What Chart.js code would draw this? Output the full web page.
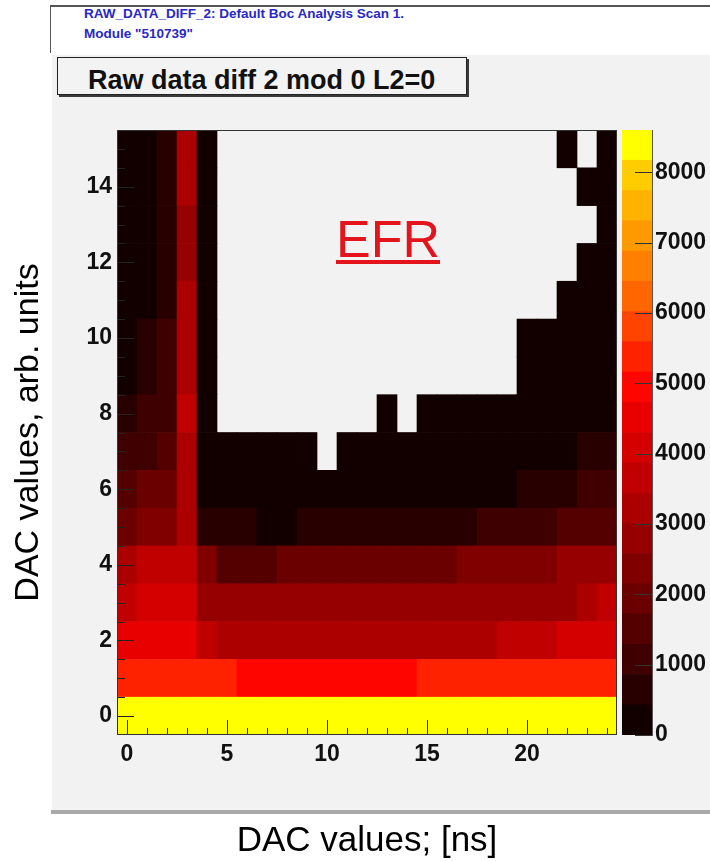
<!DOCTYPE html>
<html>
<head>
<meta charset="utf-8">
<script src="https://cdn.jsdelivr.net/npm/chart.js@4.4.1/dist/chart.umd.min.js"></script>
<style>
  body { margin: 0; background: #fff; }
  #page { position: relative; width: 710px; height: 861px; overflow: hidden; font-family: "Liberation Sans", Arial, sans-serif; }
  .abs { position: absolute; }
  #topLine { left: 50px; top: 5px; width: 660px; height: 2px; background: #555; }
  #leftLine { left: 50px; top: 5px; width: 1px; height: 48px; background: #555; }
  .hdr { left: 84px; font-weight: bold; font-size: 13.5px; line-height: 1; color: #2828c4; white-space: nowrap; }
  #pad { left: 52px; top: 55px; width: 658px; height: 755px; background: #f2f2f2; }
  #padShadow { left: 51px; top: 810px; width: 659px; height: 4px; background: #a9a9a9; }
  #titleBox { left: 57px; top: 57px; width: 410px; height: 38px; box-sizing: border-box; border: 1px solid #222;
    background: #f3f3f3; box-shadow: 2px 2px 0 #3a3a3a; padding-left: 30px; font-weight: bold; font-size: 27px;
    line-height: 45px; color: #111; white-space: nowrap; overflow: hidden; }
  canvas { position: absolute; left: 0; top: 0; }
  #efr { left: 336px; top: 213px; font-size: 52px; line-height: 1; color: #e3141b; text-decoration: underline;
    text-decoration-thickness: 4px; text-underline-offset: 3px; }
</style>
</head>
<body>
<div id="page">
  <div id="topLine" class="abs"></div>
  <div id="leftLine" class="abs"></div>
  <div class="abs hdr" style="top:7px">RAW_DATA_DIFF_2: Default Boc Analysis Scan 1.</div>
  <div class="abs hdr" style="top:27px">Module "510739"</div>
  <div id="pad" class="abs"></div>
  <div id="padShadow" class="abs"></div>
  <div id="titleBox" class="abs">Raw data diff 2 mod 0 L2=0</div>
  <canvas id="hist" width="710" height="861"></canvas>
  <canvas id="zbar" width="710" height="861"></canvas>
  <div id="efr" class="abs">EFR</div>
</div>
<script>
// bin contents, one array per DAC (y) row, 25 x bins each; null = empty bin
const yBin0  = [8390, 8420, 8410, 8400, 8380, 8430, 8440, 8450, 8420, 8410, 8430, 8440, 8420, 8400, 8410, 8390, 8400, 8380, 8370, 8390, 8380, 8360, 8370, 8350, 8340];
const yBin1  = [5420, 5390, 5360, 5340, 5300, 5250, 5100, 5080, 5050, 5030, 5020, 5040, 5060, 5090, 5120, 5200, 5230, 5260, 5300, 5330, 5360, 5390, 5420, 5450, 5480];
const yBin2  = [4560, 4520, 4480, 4440, 3700, 3350, 3300, 3260, 3230, 3200, 3180, 3170, 3160, 3170, 3190, 3210, 3250, 3290, 3340, 3560, 3620, 3680, 3950, 4010, 4080];
const yBin3  = [3620, 3980, 4050, 4100, 2900, 2850, 2810, 2780, 2760, 2740, 2730, 2720, 2720, 2730, 2740, 2750, 2770, 2790, 2810, 2840, 2870, 2910, 2960, 3150, 3520];
const yBin4  = [3180, 3500, 3560, 3600, 2300, 1550, 1480, 1500, 1800, 1850, 1880, 1900, 1920, 1950, 1980, 2020, 2080, 2200, 2260, 2320, 2380, 2440, 2650, 2720, 2800];
const yBin5  = [2000, 2300, 2400, 3250, 700, 650, 600, 380, 400, 520, 560, 600, 640, 680, 720, 760, 800, 840, 950, 1050, 1150, 1250, 1400, 1500, 1600];
const yBin6  = [1550, 1850, 1950, 3250, 150, 120, 110, 100, 90, 90, 80, 80, 80, 90, 100, 110, 130, 160, 200, 260, 500, 580, 660, 900, 1000];
const yBin7  = [1000, 1200, 1450, 3250, 90, 70, 60, 50, 40, 30, null, 30, 40, 50, 50, 60, 70, 80, 100, 120, 150, 190, 240, 470, 560];
const yBin8  = [700, 1000, 1200, 3500, 40, null, null, null, null, null, null, null, null, 20, null, 20, 20, 30, 30, 40, 50, 60, 80, 100, 130];
const yBin9  = [300, 600, 950, 3200, 30, null, null, null, null, null, null, null, null, null, null, null, null, null, null, null, 10, 20, 30, 40, 60];
const yBin10 = [250, 550, 880, 3150, 25, null, null, null, null, null, null, null, null, null, null, null, null, null, null, null, 10, 10, 20, 30, 40];
const yBin11 = [200, 350, 820, 3100, 20, null, null, null, null, null, null, null, null, null, null, null, null, null, null, null, null, null, 10, 20, 30];
const yBin12 = [180, 300, 700, 2850, 20, null, null, null, null, null, null, null, null, null, null, null, null, null, null, null, null, null, null, 10, 20];
const yBin13 = [160, 280, 680, 2800, 15, null, null, null, null, null, null, null, null, null, null, null, null, null, null, null, null, null, null, null, 10];
const yBin14 = [150, 260, 660, 3150, 15, null, null, null, null, null, null, null, null, null, null, null, null, null, null, null, null, null, null, 10, 15];
const yBin15 = [140, 250, 650, 3300, 10, null, null, null, null, null, null, null, null, null, null, null, null, null, null, null, null, null, 10, null, 10];

const xTicks = [0, 5, 10, 15, 20];
const yTicks = [0, 2, 4, 6, 8, 10, 12, 14];
const zTicks = [0, 1000, 2000, 3000, 4000, 5000, 6000, 7000, 8000];
const zMax = 8600;
const palette = ['#120000', '#280000', '#3e0000', '#540000', '#6a0000', '#800000', '#960000', '#ac0000', '#c00000', '#d40000',
                 '#e80000', '#ff0500', '#ff2200', '#ff4400', '#ff6600', '#ff8000', '#ff9900', '#ffb200', '#ffcc00', '#ffff00'];

const rows = [yBin0, yBin1, yBin2, yBin3, yBin4, yBin5, yBin6, yBin7, yBin8, yBin9, yBin10, yBin11, yBin12, yBin13, yBin14, yBin15];
const minorX = Array.from({length: 25}, (_, i) => i);
const minorY = Array.from({length: 32}, (_, i) => i / 2);

Chart.defaults.font.family = '"Liberation Sans", Arial, sans-serif';
Chart.defaults.color = '#111';

function binColour(v) {
  const k = Math.min(palette.length - 1, Math.floor(v / zMax * palette.length));
  return palette[k];
}

const tickFont = {size: 23, weight: 'bold'};
const setTicks = list => scale => { scale.ticks = list.map(v => ({value: v})); };

// ROOT style frame with ticks pointing into the pad
const rootFrame = {
  id: 'rootFrame',
  afterDatasetsDraw(chart) {
    const {ctx, chartArea: a, scales: {x, y}} = chart;
    ctx.save();
    ctx.strokeStyle = '#222';
    ctx.lineWidth = 1;
    ctx.beginPath();
    const xt = (v, len) => {
      const px = Math.round(x.getPixelForValue(v)) + 0.5;
      ctx.moveTo(px, a.bottom);
      ctx.lineTo(px, a.bottom - len);
    };
    const yt = (v, len) => {
      const py = Math.round(y.getPixelForValue(v)) + 0.5;
      ctx.moveTo(a.left, py);
      ctx.lineTo(a.left + len, py);
    };
    minorX.forEach(v => xt(v, 7));
    xTicks.forEach(v => xt(v, 15));
    minorY.forEach(v => yt(v, 8));
    yTicks.forEach(v => yt(v, 17));
    ctx.stroke();
    ctx.strokeStyle = '#333';
    ctx.strokeRect(a.left + 0.5, a.top + 0.5, a.width - 1, a.height - 1);
    ctx.restore();
  }
};

const paletteTicks = {
  id: 'paletteTicks',
  afterDatasetsDraw(chart) {
    const {ctx, chartArea: a, scales: {y}} = chart;
    ctx.save();
    ctx.strokeStyle = '#333';
    ctx.lineWidth = 1;
    ctx.beginPath();
    zTicks.forEach(v => {
      const py = Math.round(y.getPixelForValue(v)) + 0.5;
      ctx.moveTo(a.right, py);
      ctx.lineTo(a.right - 17, py);
    });
    ctx.stroke();
    ctx.restore();
  }
};

var histDatasets = rows.map(function(row, j) {
  var pts = [];
  row.forEach(function(v, i) {
    if (v !== null) pts.push({x: i, y: [j - 0.5, j + 0.5], z: v});
  });
  return {
    data: pts,
    backgroundColor: ctx => ctx.raw ? binColour(ctx.raw.z) : 'transparent',
    borderWidth: 0
  };
});

new Chart(document.getElementById('hist'), {
  type: 'bar',
  data: { datasets: histDatasets },
  plugins: [rootFrame],
  options: {
    responsive: false,
    animation: false,
    layout: { padding: { left: 10, top: 130, right: 93, bottom: 0 } },
    datasets: { bar: { barPercentage: 1, categoryPercentage: 1 } },
    plugins: { legend: { display: false }, tooltip: { enabled: false } },
    scales: {
      x: {
        type: 'linear', position: 'bottom', min: -0.5, max: 24.5, offset: false, stacked: true,
        afterBuildTicks: setTicks(xTicks),
        afterFit: s => { s.height = 126; },
        grid: { display: false, drawTicks: false, offset: false },
        border: { display: false },
        ticks: { autoSkip: false, maxRotation: 0, padding: 6, font: tickFont },
        title: { display: true, text: 'DAC values; [ns]', color: '#000', padding: 0, font: { size: 35, lineHeight: 1.1 } }
      },
      y: {
        type: 'linear', position: 'left', min: -0.5, max: 15.5,
        afterBuildTicks: setTicks(yTicks),
        afterFit: s => { s.width = 107; },
        grid: { display: false, drawTicks: false },
        border: { display: false },
        ticks: { autoSkip: false, padding: 5, font: tickFont },
        title: { display: true, text: 'DAC values, arb. units', color: '#000', padding: 0, font: { size: 34, lineHeight: 1.1 } }
      }
    }
  }
});

// colour palette axis
const band = zMax / palette.length;
new Chart(document.getElementById('zbar'), {
  type: 'bar',
  data: {
    labels: ['z'],
    datasets: palette.map((c, k) => ({ data: [[k * band, (k + 1) * band]], backgroundColor: c, borderWidth: 0 }))
  },
  plugins: [paletteTicks],
  options: {
    responsive: false,
    animation: false,
    layout: { padding: { left: 622, top: 130, right: 0, bottom: 126 } },
    datasets: { bar: { barPercentage: 1, categoryPercentage: 1 } },
    plugins: { legend: { display: false }, tooltip: { enabled: false } },
    scales: {
      x: { display: false, stacked: true },
      y: {
        position: 'right', min: 0, max: zMax,
        afterBuildTicks: setTicks(zTicks),
        afterFit: s => { s.width = 58; },
        grid: { display: false, drawTicks: false },
        border: { display: true, color: '#555', width: 1 },
        ticks: { autoSkip: false, padding: 3, font: tickFont, callback: v => String(v) }
      }
    }
  }
});
</script>
</body>
</html>
